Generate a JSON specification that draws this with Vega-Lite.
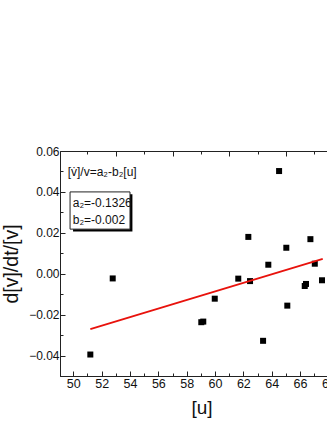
{
  "$schema": "https://vega.github.io/schema/vega-lite/v6.json",
  "autosize": {"type": "none"},
  "padding": {"left": 60, "top": 151, "right": 0, "bottom": 47},
  "width": 283,
  "height": 225,
  "background": "white",
  "config": {
    "view": {"stroke": "#222", "strokeWidth": 1},
    "font": "Liberation Sans",
    "axis": {"grid": false, "domainColor": "#222", "tickColor": "#222", "labelColor": "#111", "titleColor": "#111", "labelFont": "Liberation Sans", "titleFont": "Liberation Sans", "titleFontWeight": "normal"}
  },
  "datasets": {
    "pts": [
      {"u": 64.52, "r": 0.0502},
      {"u": 62.35, "r": 0.0180},
      {"u": 66.73, "r": 0.0169},
      {"u": 65.03, "r": 0.0127},
      {"u": 63.76, "r": 0.0044},
      {"u": 67.04, "r": 0.0049},
      {"u": 61.64, "r": -0.0024},
      {"u": 62.47, "r": -0.0036},
      {"u": 67.55, "r": -0.0032},
      {"u": 66.42, "r": -0.0050},
      {"u": 66.33, "r": -0.0060},
      {"u": 59.98, "r": -0.0122},
      {"u": 65.10, "r": -0.0156},
      {"u": 59.17, "r": -0.0234},
      {"u": 59.03, "r": -0.0237},
      {"u": 63.39, "r": -0.0328},
      {"u": 52.78, "r": -0.0023},
      {"u": 51.2, "r": -0.0395}
    ],
    "fit": [
      {"u": 51.2, "r": -0.0271},
      {"u": 67.6, "r": 0.0073}
    ]
  },
  "resolve": {"axis": {"x": "independent", "y": "independent"}},
  "layer": [
    {
      "data": {"name": "pts"},
      "mark": {"type": "square", "color": "black", "opacity": 1, "size": 36},
      "encoding": {
        "x": {"field": "u", "type": "quantitative", "scale": {"domain": [49.06, 69.03], "nice": false, "zero": false},
          "axis": {"orient": "bottom", "title": "[u]", "titleFontSize": 19, "titlePadding": 7,
            "values": [50,51,52,53,54,55,56,57,58,59,60,61,62,63,64,65,66,67,68],
            "labelExpr": "datum.value % 2 == 0 ? datum.label : ''",
            "tickSize": {"condition": {"test": "datum.value % 2 == 0", "value": -5}, "value": -3},
            "labelFontSize": 12.5, "labelPadding": 6, "labelFlush": false, "labelOverlap": false}},
        "y": {"field": "r", "type": "quantitative", "scale": {"domain": [-0.05, 0.06], "nice": false, "zero": false},
          "axis": {"orient": "left", "title": "d[v]/dt/[v]", "titleFontSize": 19.5, "titlePadding": 7,
            "values": [-0.05,-0.04,-0.03,-0.02,-0.01,0,0.01,0.02,0.03,0.04,0.05,0.06],
            "format": ".2f",
            "labelExpr": "abs(round(datum.value*100)) % 2 == 0 ? datum.label : ''",
            "tickSize": {"condition": {"test": "abs(round(datum.value*100)) % 2 == 0", "value": -5}, "value": -3},
            "labelFontSize": 12, "labelPadding": 6, "labelFlush": false, "labelOverlap": false}}
      }
    },
    {
      "data": {"name": "fit"},
      "mark": {"type": "line", "color": "#e8120c", "strokeWidth": 1.8},
      "encoding": {
        "x": {"field": "u", "type": "quantitative",
          "axis": {"orient": "top", "title": null, "labels": false, "domain": false,
            "values": [51,53,55,57,59,61,63,65,67],
            "tickSize": {"condition": {"test": "(datum.value - 53) % 4 == 0", "value": -5}, "value": -3}}},
        "y": {"field": "r", "type": "quantitative", "axis": null}
      }
    },
    {
      "data": {"values": [{"x1": 49.98, "x2": 54.17, "y1": 0.0389, "y2": 0.0206}]},
      "mark": {"type": "rect", "color": "black"},
      "encoding": {
        "x": {"field": "x1", "type": "quantitative", "axis": null},
        "x2": {"field": "x2"},
        "y": {"field": "y1", "type": "quantitative", "axis": null},
        "y2": {"field": "y2"}
      }
    },
    {
      "data": {"values": [{"x1": 49.77, "x2": 54.0, "y1": 0.0400, "y2": 0.0218}]},
      "mark": {"type": "rect", "fill": "white", "stroke": "#222", "strokeWidth": 1},
      "encoding": {
        "x": {"field": "x1", "type": "quantitative", "axis": null},
        "x2": {"field": "x2"},
        "y": {"field": "y1", "type": "quantitative", "axis": null},
        "y2": {"field": "y2"}
      }
    },
    {
      "data": {"values": [
        {"x": 49.96, "y": 0.0347, "t": "a₂=-0.1326"},
        {"x": 49.96, "y": 0.0265, "t": "b₂=-0.002"}
      ]},
      "mark": {"type": "text", "align": "left", "baseline": "middle", "fontSize": 12, "color": "#111", "font": "Liberation Sans"},
      "encoding": {
        "x": {"field": "x", "type": "quantitative", "axis": null},
        "y": {"field": "y", "type": "quantitative", "axis": null},
        "text": {"field": "t"}
      }
    },
    {
      "data": {"values": [{"x": 49.6, "y": 0.0497, "t": "[v̇]/v=a₂-b₂[u]"}]},
      "mark": {"type": "text", "align": "left", "baseline": "middle", "fontSize": 12, "color": "#111", "font": "Liberation Sans"},
      "encoding": {
        "x": {"field": "x", "type": "quantitative", "axis": null},
        "y": {"field": "y", "type": "quantitative", "axis": null},
        "text": {"field": "t"}
      }
    }
  ]
}
